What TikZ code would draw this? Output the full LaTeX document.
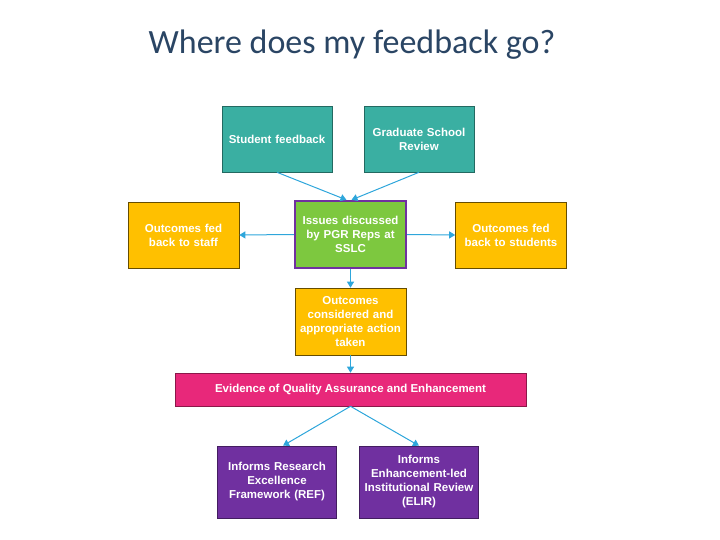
\documentclass[tikz,border=0pt]{standalone}
\usepackage{fontspec}
\setmainfont{Liberation Sans}
\newfontfamily\titlefont{Carlito}
\usetikzlibrary{arrows.meta}
\definecolor{tealbox}{HTML}{3AAFA2}
\definecolor{orangebox}{HTML}{FFC000}
\definecolor{greenbox}{HTML}{7DC83F}
\definecolor{purplebox}{HTML}{7030A0}
\definecolor{pinkbox}{HTML}{E8287A}
\definecolor{flowblue}{HTML}{2EA6DB}
\definecolor{titleblue}{HTML}{2A4564}
\begin{document}
\begin{tikzpicture}[
  x=1pt, y=-1pt,
  box/.style={draw, line width=0.6pt, inner sep=1pt, align=center, text=white,
    font=\bfseries\fontsize{11.5}{14}\selectfont},
  tl/.style={box, fill=tealbox, draw=tealbox!60!black, minimum width=110pt, minimum height=66pt, text width=108pt},
  org/.style={box, fill=orangebox, draw=orangebox!40!black, minimum width=111pt, minimum height=66pt, text width=109pt},
  prp/.style={box, fill=purplebox, draw=purplebox!60!black, minimum width=119pt, minimum height=72pt, text width=117pt},
  flow/.style={-{Triangle[width=7pt,length=6pt]}, line width=1pt, flowblue},
]
  \useasboundingbox (0,0) rectangle (720,540);

  % Title
  \node[font=\titlefont\fontsize{34}{38}\selectfont, text=titleblue] (title) at (352,45) {Where does my feedback go?};

  % Sources (top)
  \node[tl] (sf) at (277,139) {Student feedback};
  \node[tl] (gsr) at (419,139) {Graduate School\\Review};

  % SSLC row
  \node[box, fill=greenbox, draw=purplebox, line width=2.2pt, minimum width=111pt, minimum height=67pt, text width=109pt] (sslc) at (350.5,234.5) {Issues discussed\\by PGR Reps at\\SSLC};
  \node[org] (staff) at (183.5,235) {Outcomes fed\\back to staff};
  \node[org] (stud) at (511,235) {Outcomes fed\\back to students};

  % Action and evidence
  \node[org, minimum height=67pt] (act) at (350.5,321.5) {Outcomes\\considered and\\appropriate action\\taken};
  \node[box, fill=pinkbox, draw=pinkbox!60!black, minimum width=351pt, minimum height=33pt] (evid) at (350.5,389.5) {Evidence of Quality Assurance and Enhancement};

  % Outputs (bottom)
  \node[prp] (ref) at (277,482) {Informs Research\\Excellence\\Framework (REF)};
  \node[prp] (elir) at (419,482) {Informs\\Enhancement-led\\Institutional Review\\(ELIR)};

  % Connectors
  \draw[flow] (sf.south) -- ([xshift=-4pt]sslc.north);
  \draw[flow] (gsr.south) -- ([xshift=1pt]sslc.north);
  \draw[flow] (sslc.west) -- (staff.east);
  \draw[flow] (sslc.east) -- (stud.west);
  \draw[flow] (sslc.south) -- (act.north);
  \draw[flow] (act.south) -- (evid.north);
  \draw[flow] (evid.south) -- ([xshift=6pt]ref.north);
  \draw[flow] (evid.south) -- (elir.north);
\end{tikzpicture}
\end{document}
